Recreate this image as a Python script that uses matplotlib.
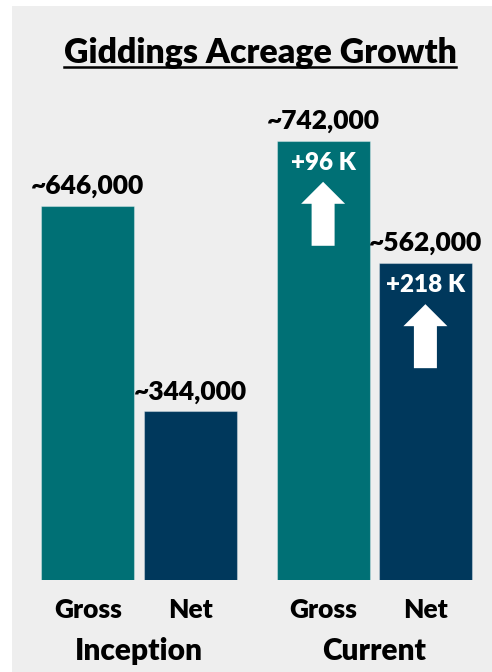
import matplotlib
matplotlib.use("Agg")
import matplotlib.pyplot as plt
from matplotlib.patches import Rectangle, Polygon
from matplotlib.lines import Line2D
import matplotlib.transforms as mtransforms

plt.rcParams['font.family'] = ['Lato', 'DejaVu Sans']
plt.rcParams['font.weight'] = 'heavy'

# Data
categories = ["Gross", "Net", "Gross", "Net"]
groups = ["Inception", "Current"]
acreage = [646000, 344000, 742000, 562000]
value_labels = ["~646,000", "~344,000", "~742,000", "~562,000"]
growth_labels = ["", "", "+96 K", "+218 K"]

TEAL = "#007075"
NAVY = "#00385c"
bar_colors = [TEAL, NAVY, TEAL, NAVY]
x_pos = [0, 1, 2.3, 3.3]
group_members = [[0, 1], [2, 3]]

W, H = 492, 672
DPI = 100
WEIGHT = "heavy"
fig = plt.figure(figsize=(W / DPI, H / DPI), dpi=DPI, facecolor="white")

# light grey panel behind everything
fig.patches.append(Rectangle((12 / W, 0), 1 - 12 / W, 1 - 6 / H,
                             transform=fig.transFigure, facecolor="#eeeeee",
                             edgecolor="none", zorder=-5))

ax = fig.add_axes([12 / W, 92 / H, 480 / W, 480 / H])
ax.set_facecolor("none")
ax.set_xlim(-0.741, 3.951)
ax.set_ylim(96000, 802000)
ax.axis("off")

bars = ax.bar(x_pos, acreage, width=0.91, color=bar_colors,
              edgecolor=(1, 1, 1, 0.35), linewidth=0.8, zorder=2)

for x, v, lab in zip(x_pos, acreage, value_labels):
    ax.annotate(lab, xy=(x, v), xytext=(0, 12), textcoords="offset pixels",
                ha="center", va="baseline", fontsize=19, fontweight=WEIGHT,
                color="black")

# growth callouts with upward arrows inside the current bars
arrow_shape = [(0, -41), (22, -63), (11.5, -63), (11.5, -105),
               (-11.5, -105), (-11.5, -63), (-22, -63)]
for x, v, lab in zip(x_pos, acreage, growth_labels):
    if not lab:
        continue
    ax.annotate(lab, xy=(x, v), xytext=(0, -22), textcoords="offset pixels",
                ha="center", va="center", fontsize=17.5, fontweight=WEIGHT,
                color="white", zorder=4)
    tr = mtransforms.ScaledTranslation(x, v, ax.transData)
    ax.add_patch(Polygon(arrow_shape, closed=True, facecolor="white",
                         edgecolor="none", transform=tr, zorder=4))

# category and group labels below the bars
btrans = mtransforms.blended_transform_factory(ax.transData, ax.transAxes)
for x, c in zip(x_pos, categories):
    ax.text(x, -38 / 480, c, transform=btrans, ha="center", va="baseline",
            fontsize=19, fontweight=WEIGHT)
for g, members in zip(groups, group_members):
    gx = sum(x_pos[i] for i in members) / len(members)
    ax.text(gx, -80 / 480, g, transform=btrans, ha="center", va="baseline",
            fontsize=21.5, fontweight=WEIGHT)

# underlined title
title = fig.text(260 / W, 1 - 63 / H, "Giddings Acreage Growth", ha="center",
                 va="baseline", fontsize=24.4, fontweight=WEIGHT)
fig.canvas.draw()
bb = title.get_window_extent().transformed(fig.transFigure.inverted())
uy = 1 - 67 / H
fig.add_artist(Line2D([bb.x0, bb.x1], [uy, uy], transform=fig.transFigure,
                      color="black", linewidth=1.8))

fig.savefig("out.png", dpi=DPI, facecolor="white")
